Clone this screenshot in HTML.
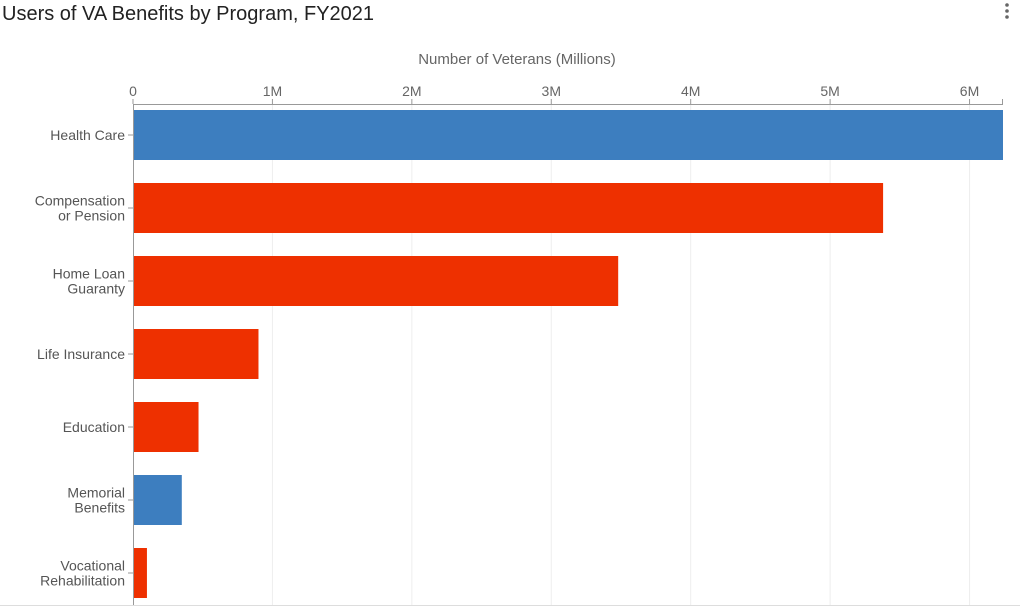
<!DOCTYPE html>
<html><head><meta charset="utf-8"><style>
body{margin:0;background:#fff;width:1020px;height:610px;overflow:hidden;font-family:"Liberation Sans",sans-serif}
</style></head><body>
<svg id="chart" width="1020" height="610" xmlns="http://www.w3.org/2000/svg">
<text x="2" y="20" font-size="20" fill="#222">Users of VA Benefits by Program, FY2021</text>
<g fill="#666"><circle cx="1007" cy="5" r="1.8"/><circle cx="1007" cy="11" r="1.8"/><circle cx="1007" cy="17" r="1.8"/></g>
<text x="517" y="64" font-size="15" fill="#666" text-anchor="middle">Number of Veterans (Millions)</text>
<g id="grid"></g><g id="bars"></g><g id="axes"></g>
</svg>
<script>
const categories=[["Health Care"],["Compensation","or Pension"],["Home Loan","Guaranty"],["Life Insurance"],["Education"],["Memorial","Benefits"],["Vocational","Rehabilitation"]];
const values=[6.24,5.38,3.48,0.90,0.47,0.35,0.10];
const colors=["#3d7ebf","#ee3000","#ee3000","#ee3000","#ee3000","#3d7ebf","#ee3000"];
const ticks=[0,1,2,3,4,5,6];
const tickLabels=["0","1M","2M","3M","4M","5M","6M"];
const NS="http://www.w3.org/2000/svg";
const x0=133,x1=1003,xMax=6.24,plotTop=104,plotBottom=605,pitch=73,barH=50,firstBar=110;
const xs=v=>x0+(v/xMax)*(x1-x0);
const ys=i=>firstBar+i*pitch;
function mk(tag,attrs,parent){const e=document.createElementNS(NS,tag);for(const k in attrs)e.setAttribute(k,attrs[k]);parent.appendChild(e);return e;}
const grid=document.getElementById('grid'),bars=document.getElementById('bars'),axes=document.getElementById('axes');
ticks.forEach((t,i)=>{
 const x=xs(t);
 if(t>0){const g=mk('line',{x1:x,x2:x,y1:plotTop,y2:plotBottom,stroke:'#eee','stroke-width':1},grid);
 
 }
 mk('line',{x1:x,x2:x,y1:plotTop-5,y2:plotTop,stroke:'#999'},axes);
 const tl=mk('text',{x:x,y:plotTop-8,'font-size':14,fill:'#666','text-anchor':'middle'},axes);
 tl.textContent=tickLabels[i];
 
 
});
mk('line',{x1:x1-0.5,x2:x1-0.5,y1:plotTop-5,y2:plotTop,stroke:'#999'},axes);
mk('line',{x1:x0,x2:x1,y1:plotTop+0.5,y2:plotTop+0.5,stroke:'#999'},axes);
mk('line',{x1:x0+0.5,x2:x0+0.5,y1:plotTop,y2:plotBottom,stroke:'#999'},axes);
mk('line',{x1:0,x2:1020,y1:plotBottom+0.5,y2:plotBottom+0.5,stroke:'#ddd'},axes);
values.forEach((v,i)=>{
 const y=ys(i);
 const r=mk('rect',{x:x0,y:y,width:xs(v)-x0,height:barH,fill:colors[i]},bars);
 
 
 const cy=y+barH/2;
 mk('line',{x1:x0-5,x2:x0,y1:cy,y2:cy,stroke:'#999'},axes);
 const lines=categories[i];
 const t=mk('text',{x:x0-8,'font-size':14,fill:'#555','text-anchor':'end'},axes);
 
 
 lines.forEach((s,j)=>{const ts=mk('tspan',{x:x0-8,y:cy+5+(j-(lines.length-1)/2)*15},t);ts.textContent=s;});
});
</script>
</body></html>
